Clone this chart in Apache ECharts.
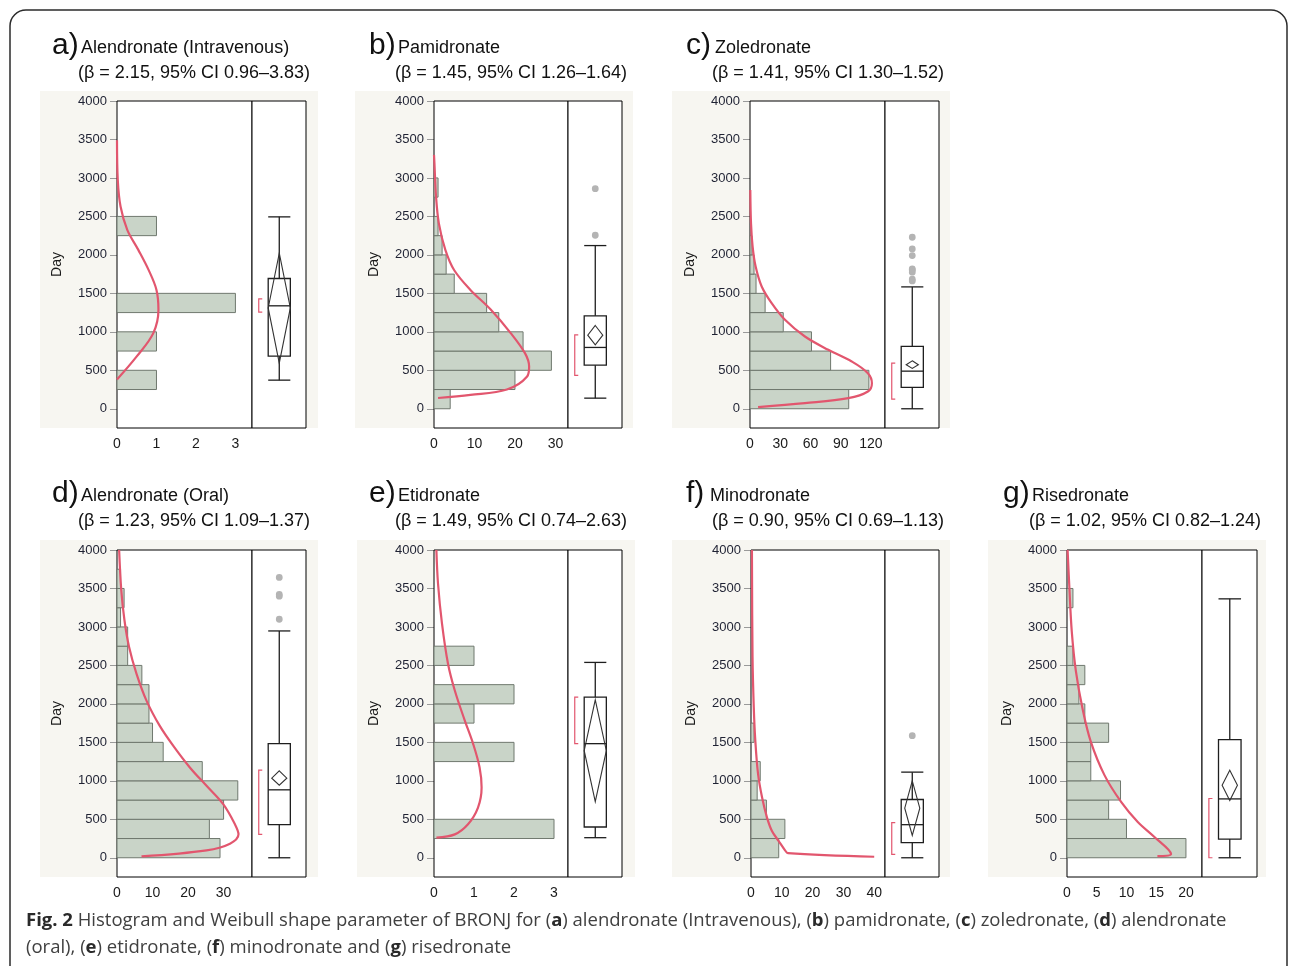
<!DOCTYPE html>
<html>
<head>
<meta charset="utf-8">
<script src="https://cdn.jsdelivr.net/npm/echarts@6/dist/echarts.min.js"></script>
<style>
  html, body { margin: 0; padding: 0; background: #fff; }
  #chart { width: 1290px; height: 966px; }
</style>
</head>
<body>
<div id="chart"></div>
<script>
// shared day axis
const dayTicks = [0, 500, 1000, 1500, 2000, 2500, 3000, 3500, 4000];
const dayMinorTicks = [250, 750, 1250, 1750, 2250, 2750, 3250, 3750];
const binWidth = 250;

// a) alendronate (intravenous)
const countsA = [0, 1, 0, 1, 0, 3, 0, 0, 0, 1];
const curveA = [[0, 380], [0.5, 680], [0.92, 983], [1.05, 1286], [1.0, 1545], [0.8, 1805], [0.54, 2065], [0.26, 2325], [0.09, 2628], [0.02, 2970], [0, 3490]];
const boxA = [372, 684, 1338, 1693, 2494];     // low whisker, q1, median, q3, high whisker
const meanA = [593, 1310, 2022];               // lower 95%, mean, upper 95%
const shortHalfA = [1255, 1428];
const outliersA = [];
const xTicksA = [0, 1, 2, 3];

// b) pamidronate
const countsB = [4, 20, 29, 22, 16, 13, 5, 3, 2, 1, 0, 1];
const curveB = [[1, 140], [9, 180], [18, 250], [23, 420], [23.5, 550], [22.5, 720], [19, 980], [14, 1290], [9, 1545], [5, 1800], [2.8, 2065], [1.2, 2410], [0.5, 2760], [0.1, 3200], [0, 3300]];
const boxB = [138, 567, 797, 1208, 2121];
const meanB = [831, 957, 1082];
const shortHalfB = [433, 961];
const outliersB = [2860, 2255];
const xTicksB = [0, 10, 20, 30];

// c) zoledronate
const countsC = [98, 118, 80, 61, 33, 15, 6, 4, 2];
const curveC = [[8, 22], [54.5, 74], [97.5, 138], [117, 225], [121, 333], [117, 463], [101, 615], [77.7, 766], [54.5, 939], [34.7, 1156], [21.5, 1372], [11.6, 1589], [5.6, 1848], [2.6, 2108], [1, 2411], [0.3, 2844]];
const boxC = [0, 277, 489, 810, 1584];
const meanC = [524, 571, 623];
const shortHalfC = [126, 593];
const outliersC = [2229, 2078, 1991, 1818, 1805, 1775, 1684, 1662];
const xTicksC = [0, 30, 60, 90, 120];

// d) alendronate (oral)
const countsD = [29, 26, 30, 34, 24, 13, 10, 9, 9, 7, 3, 3, 1, 2, 1];
const curveD = [[6.9, 17], [25.2, 96], [31.8, 183], [34.2, 304], [33.2, 435], [29.9, 696], [25.2, 935], [20.5, 1174], [15.8, 1457], [12, 1717], [8.3, 2043], [5.5, 2391], [3.4, 2739], [2.1, 3087], [1.2, 3478], [0.6, 4000]];
const boxD = [0, 430, 883, 1483, 2948];
const meanD = [943, 1035, 1130];
const shortHalfD = [304, 1139];
const outliersD = [3643, 3422, 3400, 3100];
const xTicksD = [0, 10, 20, 30];

// e) etidronate
const countsE = [0, 3, 0, 0, 0, 2, 0, 1, 2, 0, 1];
const curveE = [[0.06, 261], [0.52, 304], [0.85, 435], [1.1, 652], [1.19, 913], [1.14, 1174], [0.98, 1478], [0.77, 1783], [0.52, 2174], [0.35, 2522], [0.2, 3043], [0.1, 3565], [0.06, 4000]];
const boxE = [261, 400, 1483, 2087, 2539];
const meanE = [730, 1391, 2052];
const shortHalfE = [1483, 2087];
const outliersE = [];
const xTicksE = [0, 1, 2, 3];

// f) minodronate
const countsF = [9, 11, 5, 2, 3, 0, 1];
const curveF = [[40, 13], [12, 60], [11, 100], [9, 217], [6.8, 348], [5.2, 522], [3.6, 783], [2.3, 1087], [1.4, 1522], [0.9, 1957], [0.5, 2609], [0.3, 4000]];
const boxF = [0, 196, 430, 757, 1113];
const meanF = [291, 645, 1000];
const shortHalfF = [43, 457];
const outliersF = [1587];
const xTicksF = [0, 10, 20, 30, 40];

// g) risedronate
const countsG = [20, 10, 7, 9, 4, 4, 7, 3, 2, 3, 1, 0, 0, 1];
const curveG = [[15.2, 22], [17.5, 50], [14.7, 270], [11.9, 465], [9.1, 726], [6.3, 1074], [4, 1509], [2.6, 1943], [1.5, 2422], [0.8, 2943], [0.4, 3509], [0.1, 4000]];
const boxG = [0, 243, 765, 1535, 3365];
const meanG = [743, 943, 1139];
const shortHalfG = [0, 770];
const outliersG = [];
const xTicksG = [0, 5, 10, 15, 20];

const letters = ['a)', 'b)', 'c)', 'd)', 'e)', 'f)', 'g)'];
const drugNames = ['Alendronate (Intravenous)', 'Pamidronate', 'Zoledronate', 'Alendronate (Oral)', 'Etidronate', 'Minodronate', 'Risedronate'];
const betaLabels = [
    '(\u03b2 = 2.15, 95% CI 0.96\u20133.83)',
    '(\u03b2 = 1.45, 95% CI 1.26\u20131.64)',
    '(\u03b2 = 1.41, 95% CI 1.30\u20131.52)',
    '(\u03b2 = 1.23, 95% CI 1.09\u20131.37)',
    '(\u03b2 = 1.49, 95% CI 0.74\u20132.63)',
    '(\u03b2 = 0.90, 95% CI 0.69\u20131.13)',
    '(\u03b2 = 1.02, 95% CI 0.82\u20131.24)'
];

// page layout in pixels: x of zero count, divider, right edge, plot top, axis max
const layout = [
    { x0: 117, div: 252, right: 306, top: 101, xMax: 3.42, bgX: 40, titleX: 52, titleY: 46, diamond: 1.0 },
    { x0: 434, div: 568, right: 622, top: 101, xMax: 33.1, bgX: 355, titleX: 369, titleY: 46, diamond: 0.68 },
    { x0: 750, div: 885, right: 939, top: 101, xMax: 134, bgX: 672, titleX: 686, titleY: 46, diamond: 0.55 },
    { x0: 117, div: 252, right: 306, top: 550, xMax: 38, bgX: 40, titleX: 52, titleY: 494, diamond: 0.68 },
    { x0: 434, div: 568, right: 622, top: 550, xMax: 3.35, bgX: 357, titleX: 369, titleY: 494, diamond: 1.0 },
    { x0: 751, div: 885, right: 939, top: 550, xMax: 43.5, bgX: 672, titleX: 686, titleY: 494, diamond: 0.68 },
    { x0: 1067, div: 1202, right: 1257, top: 550, xMax: 22.7, bgX: 988, titleX: 1003, titleY: 494, diamond: 0.68 }
];

const panels = [
    { counts: countsA, curve: curveA, box: boxA, mean: meanA, shortHalf: shortHalfA, outliers: outliersA, xTicks: xTicksA },
    { counts: countsB, curve: curveB, box: boxB, mean: meanB, shortHalf: shortHalfB, outliers: outliersB, xTicks: xTicksB },
    { counts: countsC, curve: curveC, box: boxC, mean: meanC, shortHalf: shortHalfC, outliers: outliersC, xTicks: xTicksC },
    { counts: countsD, curve: curveD, box: boxD, mean: meanD, shortHalf: shortHalfD, outliers: outliersD, xTicks: xTicksD },
    { counts: countsE, curve: curveE, box: boxE, mean: meanE, shortHalf: shortHalfE, outliers: outliersE, xTicks: xTicksE },
    { counts: countsF, curve: curveF, box: boxF, mean: meanF, shortHalf: shortHalfF, outliers: outliersF, xTicks: xTicksF },
    { counts: countsG, curve: curveG, box: boxG, mean: meanG, shortHalf: shortHalfG, outliers: outliersG, xTicks: xTicksG }
];

const DAY_MIN = -250, DAY_MAX = 4000;
const PLOT_H = 327;
const FONT = '"Liberation Sans", Arial, sans-serif';
const BAR_FILL = '#c9d4c8', BAR_LINE = '#6f786e', CURVE = '#e2566e', INK = '#1e1e1e';

function histRender(params, api) {
    const lo = api.value(0), hi = api.value(1), c = api.value(2);
    const p0 = api.coord([0, lo]);
    const p1 = api.coord([c, hi]);
    return {
        type: 'rect',
        shape: { x: p0[0], y: p1[1], width: p1[0] - p0[0], height: p0[1] - p1[1] },
        style: { fill: BAR_FILL, stroke: BAR_LINE, lineWidth: 1 }
    };
}

function boxRenderer(p, diamondFrac) {
    return function (params, api) {
        const cx = 0.505, hw = 0.205;
        const X = (f, v) => api.coord([f, v]);
        const line = (a, b, style) => ({
            type: 'line',
            shape: { x1: a[0], y1: a[1], x2: b[0], y2: b[1] },
            style: Object.assign({ stroke: INK, lineWidth: 1.3 }, style || {})
        });
        const [wLo, q1, med, q3, wHi] = p.box;
        const kids = [];
        // whiskers + caps
        kids.push(line(X(cx, wLo), X(cx, q1)));
        kids.push(line(X(cx, q3), X(cx, wHi)));
        kids.push(line(X(cx - hw, wLo), X(cx + hw, wLo)));
        kids.push(line(X(cx - hw, wHi), X(cx + hw, wHi)));
        // box
        const tl = X(cx - hw, q3), br = X(cx + hw, q1);
        kids.push({
            type: 'rect',
            shape: { x: tl[0], y: tl[1], width: br[0] - tl[0], height: br[1] - tl[1] },
            style: { fill: 'none', stroke: INK, lineWidth: 1.3 }
        });
        kids.push(line(X(cx - hw, med), X(cx + hw, med)));
        // mean diamond
        const [mLo, mean, mHi] = p.mean;
        const dw = hw * diamondFrac;
        kids.push({
            type: 'polygon',
            shape: { points: [X(cx, mHi), X(cx + dw, mean), X(cx, mLo), X(cx - dw, mean)] },
            style: { fill: 'none', stroke: '#333', lineWidth: 1.1 }
        });
        // shortest half bracket
        const [sLo, sHi] = p.shortHalf;
        kids.push({
            type: 'polyline',
            shape: { points: [X(0.19, sHi), X(0.125, sHi), X(0.125, sLo), X(0.19, sLo)] },
            style: { fill: 'none', stroke: CURVE, lineWidth: 1.2 }
        });
        // outliers
        p.outliers.forEach(v => {
            const c = X(cx, v);
            kids.push({ type: 'circle', shape: { cx: c[0], cy: c[1], r: 3.4 }, style: { fill: '#b4b4b4' } });
        });
        return { type: 'group', children: kids };
    };
}

const option = {
    animation: false,
    backgroundColor: '#fff',
    grid: [], xAxis: [], yAxis: [], series: [], graphic: []
};

// outer rounded frame and caption
option.graphic.push({
    type: 'rect', z: -20, silent: true,
    shape: { x: 10, y: 10, width: 1277, height: 1100, r: 16 },
    style: { fill: '#fff', stroke: '#2b2b2b', lineWidth: 1.5 }
});
option.graphic.push({
    type: 'text', z: 5, left: 26, top: 907,
    style: {
        text: '{b|Fig. 2} Histogram and Weibull shape parameter of BRONJ for ({b|a}) alendronate (Intravenous), ({b|b}) pamidronate, ({b|c}) zoledronate, ({b|d}) alendronate\n(oral), ({b|e}) etidronate, ({b|f}) minodronate and ({b|g}) risedronate',
        font: '18.5px "Open Sans", "Noto Sans", sans-serif',
        fill: '#404040',
        lineHeight: 27,
        rich: {
            b: { fontWeight: 'bold', fontSize: 18.5, fontFamily: '"Open Sans", sans-serif', fill: '#2a2a2a' }
        }
    }
});

panels.forEach((p, i) => {
    const L = layout[i];
    const top = L.top;
    const gh = { left: L.x0, top: top, width: L.div - L.x0, height: PLOT_H };
    const gb = { left: L.div, top: top, width: L.right - L.div, height: PLOT_H };

    // grey panel background
    option.graphic.push({
        type: 'rect', z: -10, silent: true,
        shape: { x: L.bgX, y: top - 10, width: 278, height: PLOT_H + 10 },
        style: { fill: '#f7f6f1' }
    });
    // titles
    option.graphic.push({
        type: 'text', z: 5, silent: true,
        style: { text: letters[i], x: L.titleX, y: L.titleY, font: '30px ' + FONT, fill: '#111', verticalAlign: 'middle' }
    });
    option.graphic.push({
        type: 'text', z: 5, silent: true,
        style: { text: drugNames[i], x: L.titleX + (i === 5 ? 24 : 29), y: L.titleY + 2, font: '18px ' + FONT, fill: '#111', verticalAlign: 'middle' }
    });
    option.graphic.push({
        type: 'text', z: 5, silent: true,
        style: { text: betaLabels[i], x: L.titleX + 26, y: L.titleY + 27, font: '18px ' + FONT, fill: '#111', verticalAlign: 'middle' }
    });

    option.grid.push(Object.assign({ show: true, z: 1, backgroundColor: '#fff', borderColor: '#000', borderWidth: 1 }, gh));
    option.grid.push(Object.assign({ show: true, z: 1, backgroundColor: '#fff', borderColor: '#000', borderWidth: 1 }, gb));

    option.xAxis.push({
        type: 'value', gridIndex: 2 * i, min: 0, max: L.xMax,
        axisLine: { show: false }, axisTick: { show: false }, splitLine: { show: false },
        axisLabel: { customValues: p.xTicks, margin: 9, color: '#1a1a1a', fontSize: 14, fontFamily: FONT, formatter: v => String(v) }
    });
    option.xAxis.push({
        type: 'value', gridIndex: 2 * i + 1, min: 0, max: 1, show: false, splitLine: { show: false }
    });

    option.yAxis.push({
        type: 'value', gridIndex: 2 * i, min: DAY_MIN, max: DAY_MAX,
        name: 'Day', nameLocation: 'middle', nameGap: 53, nameRotate: 90,
        nameTextStyle: { color: '#1a1a1a', fontSize: 14, fontFamily: FONT },
        axisLine: { show: false }, splitLine: { show: false },
        axisTick: { show: true, customValues: dayTicks, length: 7, lineStyle: { color: '#9a9a9a' } },
        axisLabel: { customValues: dayTicks, margin: 10, color: '#1f2233', fontSize: 13, fontFamily: FONT, formatter: v => String(v) }
    });
    option.yAxis.push({
        type: 'value', gridIndex: 2 * i, min: DAY_MIN, max: DAY_MAX,
        axisLine: { show: false }, splitLine: { show: false }, axisLabel: { show: false },
        axisTick: { show: true, customValues: dayMinorTicks, length: 4, lineStyle: { color: '#b0b0b0' } }
    });
    option.yAxis.push({
        type: 'value', gridIndex: 2 * i + 1, min: DAY_MIN, max: DAY_MAX, show: false, splitLine: { show: false }
    });

    const bins = p.counts.map((c, k) => [k * binWidth, (k + 1) * binWidth, c]).filter(d => d[2] > 0);
    option.series.push({
        type: 'custom', xAxisIndex: 2 * i, yAxisIndex: 3 * i, z: 2,
        renderItem: histRender, data: bins,
        encode: { x: 2, y: [0, 1] }
    });
    option.series.push({
        type: 'line', xAxisIndex: 2 * i, yAxisIndex: 3 * i, z: 3,
        data: p.curve, smooth: 0.35, showSymbol: false,
        lineStyle: { color: CURVE, width: 2.2 }
    });
    option.series.push({
        type: 'custom', xAxisIndex: 2 * i + 1, yAxisIndex: 3 * i + 2, z: 3,
        renderItem: boxRenderer(p, L.diamond), data: [[0.5, 0]]
    });
});

const chart = echarts.init(document.getElementById('chart'));
chart.setOption(option);
</script>
</body>
</html>
